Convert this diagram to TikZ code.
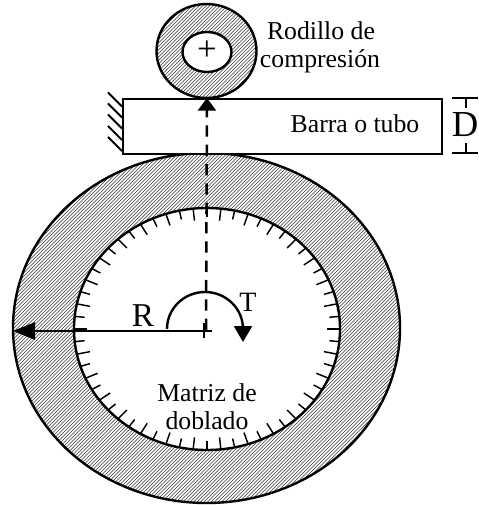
\documentclass[tikz,border=0pt]{standalone}
\usepackage{fontspec}
\setmainfont{Liberation Serif}
\usetikzlibrary{arrows.meta}
\tikzset{
  heavy/.style={line width=1.8pt,black},
  hatchline/.style={line width=0.42pt,black!80},
  label/.style={inner sep=0pt,anchor=base,font=\fontsize{19.3}{22}\selectfont},
  bigtip/.style={-{Triangle[length=12pt,width=13.5pt]}}
}
\begin{document}
\begin{tikzpicture}[x=0.75pt,y=-0.75pt]
\useasboundingbox (0,0) rectangle (478,505);
% die hatching
\begin{scope}
  \clip (206.5,328) ellipse [x radius=193.5,y radius=175];
  \foreach \c in {-115,...,115}{
    \draw[hatchline] ({206.5+3.5*\c-220},{328+220}) -- ({206.5+3.5*\c+220},{328-220});
  }
\end{scope}
\draw[heavy] (206.5,328) ellipse [x radius=193.5,y radius=175];
\draw[heavy,fill=white] (207,329) ellipse [x radius=133,y radius=121];
% ticks
\foreach \a [count=\i] in {0,6,...,354}{
  \pgfmathsetmacro{\f}{isodd(\i)?0.9:0.925}
  \draw[line width=1.1pt] ({207+133*cos(\a)},{329+121*sin(\a)}) -- ({207+133*\f*cos(\a)},{329+121*\f*sin(\a)});
}
% roller
\begin{scope}
  \clip (206.5,51) ellipse [x radius=50,y radius=47];
  \foreach \c in {-32,...,32}{
    \draw[hatchline] ({206.5+3.5*\c-70},{51+70}) -- ({206.5+3.5*\c+70},{51-70});
  }
\end{scope}
\draw[heavy] (206.5,51) ellipse [x radius=50,y radius=47];
\draw[heavy,fill=white] (207,52) ellipse [x radius=24.5,y radius=20];
\node[inner sep=0pt,font=\fontsize{26}{26}\selectfont] (plus) at (207,51) {+};
% bar
\node[draw,heavy,fill=white,minimum width=239.25pt,minimum height=41.25pt,inner sep=0pt,anchor=north west] (bar) at (122,98) {};
% wall hatch
\foreach \y in {92.5,103.5,114.5,126,137}{
  \draw[line width=1.5pt] (108,\y) -- (122,\y+14);
}
% named points
\coordinate (rtip) at (13,331);
\coordinate (crossE) at (212,331);
\coordinate (crossN) at (204,323);
\coordinate (crossS) at (204,338);
\coordinate (dashS) at (206,330);
\coordinate (dashN) at (207,98);
\coordinate (dimTL) at (452,98);
\coordinate (dimTR) at (478,98);
\coordinate (dimBL) at (452,153);
\coordinate (dimBR) at (478,153);
\coordinate (dimT) at (466,98);
\coordinate (dimTs) at (466,108);
\coordinate (dimB) at (466,153);
\coordinate (dimBs) at (466,143);
% connectors
\draw[line width=1.9pt,dash pattern=on 8.5pt off 6pt,-{Triangle[length=9.5pt,width=13.5pt]}] (dashS) -- (dashN);
\draw[line width=1.3pt,-{Triangle[length=16.5pt,width=13pt]}] (crossE) -- (rtip);
\draw[line width=1.3pt] (crossN) -- (crossS);
\draw[heavy,bigtip] (167,329) arc [start angle=180,end angle=360,x radius=38,y radius=37] -- (243,342);
% dimension
\draw[line width=1pt] (dimTL) -- (dimTR) (dimBL) -- (dimBR) (dimT) -- (dimTs) (dimB) -- (dimBs);
% labels
\node[label] (rodillo) at (321,40) {Rodillo de};
\node[label] (compresion) at (320,68) {compresión};
\node[label] (barra) at (355,133) {Barra o tubo};
\node[label,font=\fontsize{27.5}{28}\selectfont] (dlab) at (465,137) {D};
\node[label,font=\fontsize{25}{25}\selectfont] (rlab) at (143,326) {R};
\node[label,font=\fontsize{21}{21}\selectfont] (tlab) at (248,311) {T};
\node[label] (matriz) at (207,401) {Matriz de};
\node[label] (doblado) at (207,429) {doblado};
\end{tikzpicture}
\end{document}
